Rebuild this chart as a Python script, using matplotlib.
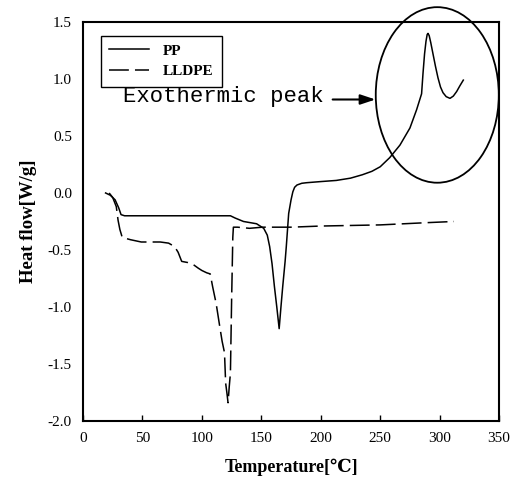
#!/usr/bin/env python3

import matplotlib
matplotlib.use("Agg")
import matplotlib.pyplot as plt
from matplotlib.patches import Ellipse


# DSC traces
pp_temp = [19, 23, 27, 30, 32, 35, 60, 100, 124, 128, 135, 146, 152, 155,
           157, 159, 161, 163, 165, 166.5, 168, 170, 171, 173, 175, 176.5,
           178, 180, 184, 188, 200, 213, 225, 235, 243, 250, 258, 266.6, 275,
           280.6, 284.8, 286, 287.3, 288.5, 289.5, 290.2, 291.2, 292.5, 294.4,
           296.5, 298.6, 300.7, 302.8, 305.5, 308.7, 311.5, 314.3, 317, 319.9]
pp_flow = [0.0, -0.02, -0.06, -0.13, -0.19, -0.2, -0.2, -0.2, -0.2, -0.22,
           -0.25, -0.27, -0.31, -0.37, -0.47, -0.62, -0.82, -1.0, -1.19, -1.0,
           -0.82, -0.6, -0.47, -0.18, -0.06, 0.01, 0.05, 0.07, 0.085, 0.09,
           0.10, 0.11, 0.13, 0.16, 0.19, 0.23, 0.31, 0.42, 0.57, 0.73, 0.87,
           1.05, 1.22, 1.33, 1.39, 1.40, 1.38, 1.32, 1.22, 1.11, 1.01, 0.93,
           0.88, 0.845, 0.83, 0.85, 0.89, 0.94, 0.99]

lldpe_temp = [22, 25, 28, 29.5, 31, 33, 40, 49, 56, 65, 72, 77, 80, 83, 88,
              93, 97, 100, 104, 107, 109, 112, 115, 117, 119, 120, 121, 122,
              123, 124, 125, 126, 126.5, 130, 140, 151, 175, 200, 250, 290, 312]
lldpe_flow = [0.0, -0.04, -0.12, -0.24, -0.32, -0.39, -0.41, -0.43, -0.43,
              -0.43, -0.44, -0.47, -0.52, -0.60, -0.61, -0.63, -0.66, -0.68,
              -0.70, -0.71, -0.82, -0.97, -1.17, -1.30, -1.40, -1.67, -1.75,
              -1.84, -1.70, -1.58, -0.94, -0.39, -0.30, -0.30, -0.31, -0.30,
              -0.30, -0.29, -0.28, -0.26, -0.25]

series_labels = ["PP", "LLDPE"]
x_ticks = [0, 50, 100, 150, 200, 250, 300, 350]
y_ticks = [-2.0, -1.5, -1.0, -0.5, 0.0, 0.5, 1.0, 1.5]

SERIF = ["Liberation Serif", "DejaVu Serif", "Noto Sans CJK SC"]


def main() -> None:
    plt.rcParams["font.family"] = SERIF
    fig = plt.figure(figsize=(5.14, 4.82), dpi=100)
    ax = fig.add_axes([0.1615, 0.1266, 0.8095, 0.8278])

    ax.plot(pp_temp, pp_flow, color="black", linewidth=1.1,
            label=series_labels[0])
    ax.plot(lldpe_temp, lldpe_flow, color="black", linewidth=1.1,
            dashes=(13, 4), label=series_labels[1])

    ax.set_xlim(0, 350)
    ax.set_ylim(-2.0, 1.5)
    ax.set_xticks(x_ticks)
    ax.set_yticks(y_ticks)
    ax.set_xticklabels([str(t) for t in x_ticks], fontsize=11)
    ax.set_yticklabels([f"{t:.1f}" for t in y_ticks], fontsize=11)
    ax.tick_params(axis="x", direction="in", length=4, width=1, pad=8)
    ax.tick_params(axis="y", direction="in", length=0, pad=8)
    for spine in ax.spines.values():
        spine.set_linewidth(1.5)

    ax.set_xlabel("Temperature[℃]", fontsize=13, fontweight="bold",
                  labelpad=10)
    ax.set_ylabel("Heat flow[W/g]", fontsize=13.5, fontweight="bold",
                  labelpad=8)

    leg = ax.legend(loc="upper left", bbox_to_anchor=(0.025, 0.985),
                    fancybox=False, edgecolor="black", framealpha=1,
                    prop={"family": SERIF, "size": 11, "weight": "bold"},
                    handlelength=2.6, handletextpad=0.9, borderpad=0.55,
                    labelspacing=0.45)
    leg.get_frame().set_linewidth(1.0)

    # annotation of the exothermic peak
    ax.add_patch(Ellipse((298, 0.86), 103.5, 1.54, fill=False,
                         edgecolor="black", linewidth=1.3, clip_on=False))
    ax.text(34, 0.85, "Exothermic peak", fontsize=16,
            family=["Liberation Mono", "DejaVu Sans Mono"],
            ha="left", va="center")
    ax.annotate("", xy=(246, 0.82), xytext=(210, 0.82),
                arrowprops=dict(arrowstyle="-|>,head_length=0.9,head_width=0.3",
                                color="black", linewidth=1.5,
                                shrinkA=0, shrinkB=0))

    fig.savefig("out.png", dpi=100)
    plt.close(fig)


if __name__ == "__main__":
    main()
